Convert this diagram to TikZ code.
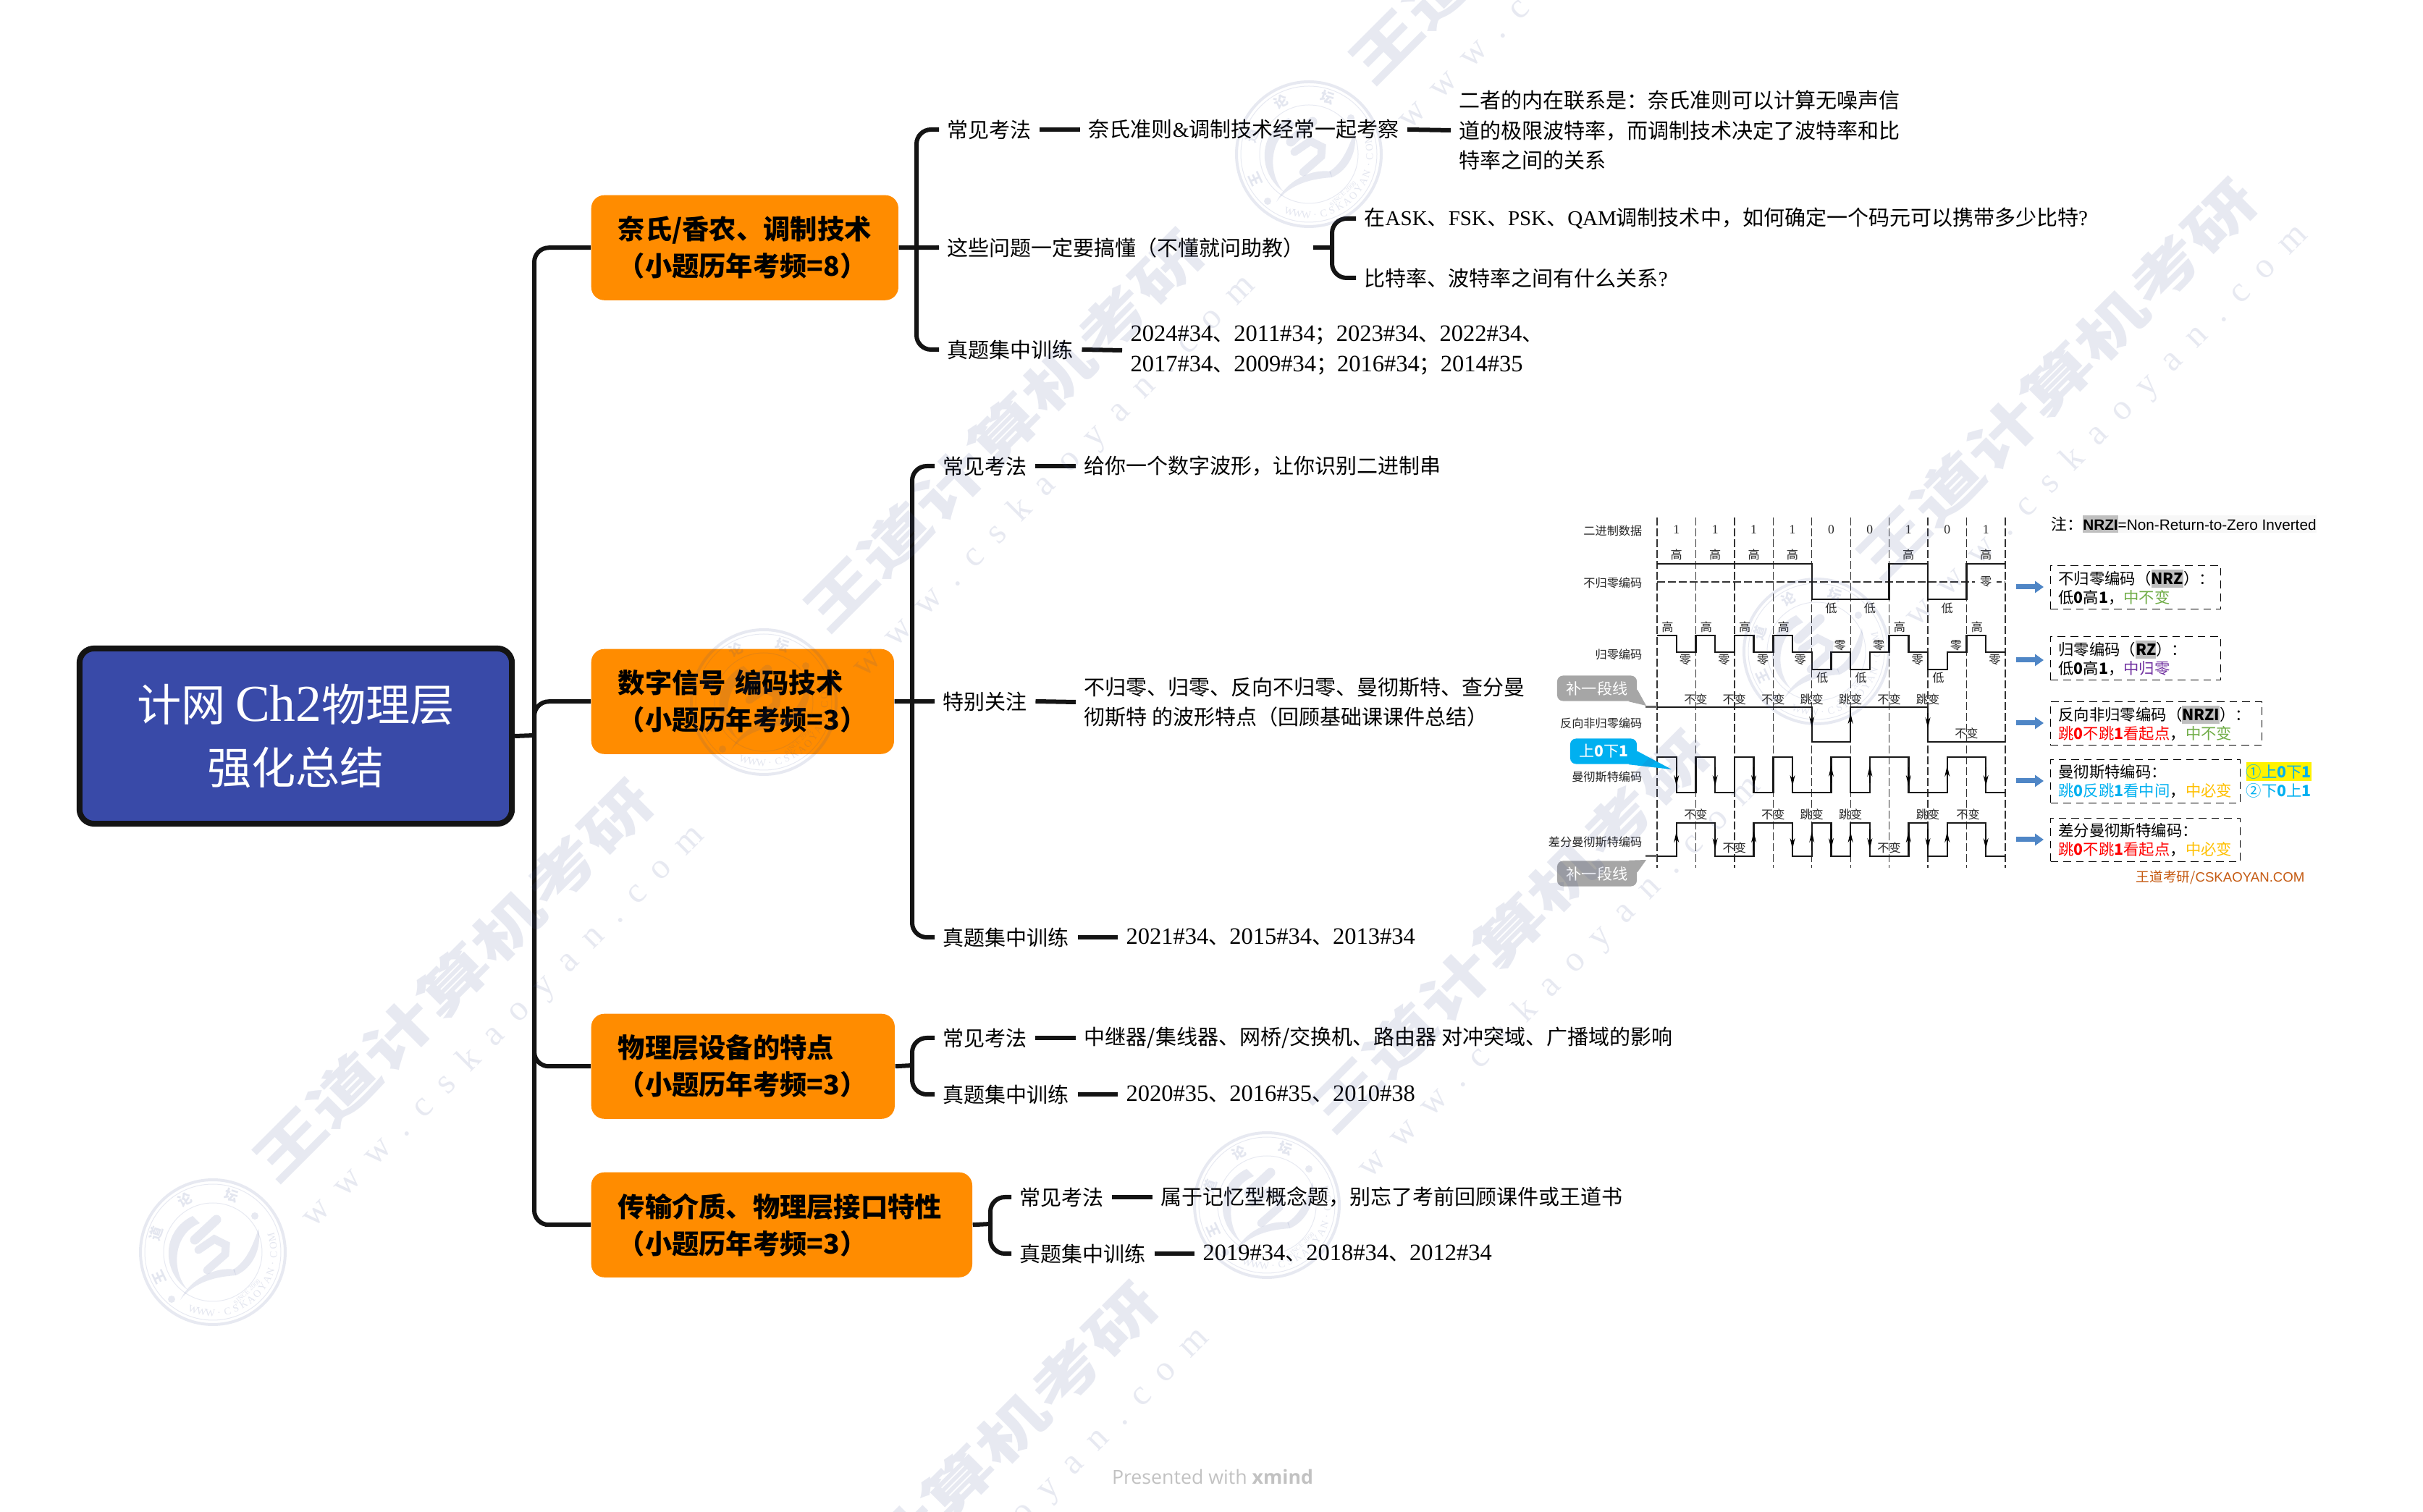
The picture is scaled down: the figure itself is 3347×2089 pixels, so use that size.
\documentclass[tikz,border=0pt]{standalone}
\usepackage{fontspec}
\setmainfont{Noto Sans CJK SC}
\newfontfamily\latfont{Liberation Serif}
\newfontfamily\numfont[Scale=1.12]{Liberation Serif}
\newfontfamily\rootfont[Scale=1.17]{Liberation Serif}
\newfontfamily\arialfont{Liberation Sans}
\newfontfamily\wmurlfont[LetterSpace=50]{Liberation Serif}
\newfontfamily\xmfont{Open Sans}
\usetikzlibrary{arrows.meta}
\definecolor{rootfill}{RGB}{57,74,168}
\definecolor{rootedge}{RGB}{20,20,20}
\definecolor{topicfill}{RGB}{255,140,0}
\definecolor{bubgray}{RGB}{166,166,166}
\definecolor{bubblue}{RGB}{0,176,240}
\definecolor{hlgray}{RGB}{191,191,191}
\definecolor{arrowblue}{RGB}{79,134,198}
\definecolor{zgreen}{RGB}{112,173,71}
\definecolor{zpurple}{RGB}{112,48,160}
\definecolor{zred}{RGB}{255,0,0}
\definecolor{zblue}{RGB}{0,176,240}
\definecolor{zorange}{RGB}{255,192,0}
\definecolor{zbrown}{RGB}{197,90,17}
\definecolor{wmblue}{RGB}{63,80,147}
\def\lat#1{{\latfont #1}}
\def\yr#1{{\numfont #1}}
\def\hl#1{{\fboxsep=0pt\colorbox{hlgray}{\rule[-1.1pt]{0pt}{7pt}\textbf{#1}}}}
\tikzset{
	rootbox/.style={draw=rootedge, line width=0.8mm, fill=rootfill, rounded corners=2mm, text=white, align=center, minimum width=5.97cm, minimum height=2.42cm, font=\fontsize{17.4}{25}\selectfont},
	topicbox/.style={fill=topicfill, rounded corners=1.8mm, anchor=north west, align=left, inner xsep=3.7mm, inner ysep=0pt, minimum height=1.45cm, font=\bfseries\fontsize{10.6}{14.5}\selectfont},
	leaf/.style={anchor=west, align=left, inner xsep=1.1mm, inner ysep=0pt, font=\fontsize{8.25}{11.8}\selectfont},
	bar/.style={line width=0.6mm, color=rootedge},
	fork/.style={line width=0.6mm, color=rootedge, rounded corners=2mm},
	gridline/.style={line width=0.13mm, color=black!80, dash pattern=on 1.1mm off 0.4mm},
	wave/.style={line width=0.24mm, color=black!90},
	wavetip/.style={line width=0.13mm, -{Stealth[length=1.5mm,width=0.7mm]}},
	siglbl/.style={inner sep=0pt, font=\fontsize{4.6}{5}\selectfont, text=black!85},
	bubble/.style={rounded corners=0.8mm, minimum width=1.1cm, minimum height=0.35cm, inner sep=0pt, text=white, font=\fontsize{6}{7}\selectfont},
	notebox/.style={draw, line width=0.11mm, densely dashed, anchor=north west, align=left, inner xsep=1.1mm, inner ysep=0pt, minimum height=0.6cm, font=\fontsize{6.07}{7.4}\selectfont},
	notearrow/.style={line width=0.7mm, color=arrowblue, shorten >=0.9mm, -{Triangle[length=1.2mm,width=1.6mm]}},
	wmtitle/.style={rotate=45, xscale=1.44, opacity=0.12, text=wmblue, inner sep=0pt, font=\bfseries\fontsize{21}{22}\selectfont},
	wmurl/.style={rotate=45, opacity=0.12, text=wmblue, inner sep=0pt, font=\wmurlfont\fontsize{14}{15}\selectfont},
	wmline/.style={color=wmblue, opacity=0.12, line cap=round},
	wmfill/.style={fill=wmblue, opacity=0.12},
	wmseal/.style={opacity=0.14, text=wmblue, inner sep=0pt},
}
\def\wmtile(#1,#2){
	\node[wmtitle] (wmt#1) at (#1,#2) {王道计算机考研};
	\node[wmurl] (wmu#1) at (#1+70,#2+64) {www.cskaoyan.com};
}
\def\sealmark(#1,#2){
	\begin{scope}[shift={(#1,#2)},x=0.01cm,y=0.01cm]
		\draw[wmline, line width=0.4mm] (0,0) circle (100);
		\draw[wmline, line width=0.1mm] (0,0) circle (94);
		\draw[wmline, line width=0.1mm] (0,0) circle (68);
		\fill[wmfill] (-28,50) .. controls (-70,30) and (-72,-25) .. (-35,-52) .. controls (-58,-25) and (-55,25) .. (-18,40) -- cycle;
		\fill[wmfill] (63,32) .. controls (68,5) and (55,-22) .. (32,-32) -- (28,-24) .. controls (45,-14) and (55,8) .. (63,32) -- cycle;
		\fill[wmfill] (-45,-66) .. controls (-30,-35) and (5,-20) .. (30,-24) -- (32,-32) .. controls (5,-34) and (-25,-40) .. (-45,-66) -- cycle;
		\draw[wmline, line width=1.3mm] (5,45) -- (-25,17);
		\draw[wmline, line width=1.1mm] (-20,3) -- (2,18) -- (18,10) -- (17,-3) -- (-8,-25);
		\fill[wmfill] (58,50) circle (5);
		\fill[wmfill] (-57,-65) circle (5);
		\foreach \g/\a [count=\i] in {王/205,道/162,论/118,坛/72}
			\node[wmseal, rotate=\a-90, font=\bfseries\fontsize{5.4}{6}\selectfont] (sg\i) at (\a:82) {\g};
		\foreach \g [count=\i, evaluate=\i as \a using 243+\i*8.2] in {W,W,W,.,C,S,K,A,O,Y,A,N,.,C,O,M}
			\node[wmseal, rotate=\a+90, font=\latfont\fontsize{4}{5}\selectfont] (sl\i) at (\a:84) {\g};
		\node[wmseal, rotate=43, font=\latfont\fontsize{2.6}{3}\selectfont] (since) at (47,-55) {SINCE 2008};
	\end{scope}
}

\begin{document}
\begin{tikzpicture}[x=0.01cm,y=-0.01cm]
			%%%%% START %%%%%
			\useasboundingbox (0,0) rectangle (3347,2089);
			\fill[white] (0,0) rectangle (3347,2089);
			
			\node[rootbox] (root) at (408.5,1017) {计网 {\rootfont Ch2}物理层\\强化总结};
			
			\node[topicbox, text width=3.5cm] (topic1) at (816,269) {奈氏/香农、调制技术\\（小题历年考频=8）};
			\node[topicbox, text width=3.44cm] (topic2) at (816,896) {数字信号 编码技术\\（小题历年考频=3）};
			\node[topicbox, text width=3.45cm] (topic3) at (816,1400) {物理层设备的特点\\（小题历年考频=3）};
			\node[topicbox, text width=4.52cm] (topic4) at (816,1619) {传输介质、物理层接口特性\\（小题历年考频=3）};
			
			\coordinate (trunk) at (738,1016);
			\draw[bar] (root.east) -- (trunk);
			\foreach \t in {1,...,4}
				\draw[fork] (trunk) |- (topic\t.west);
			
			%% first topic
			\node[leaf] (aexam) at (1297,179) {常见考法};
			\node[leaf] (anote) at (1492,179) {奈氏准则\lat{\&}调制技术经常一起考察};
			\node[leaf] (alink) at (2004,180) {二者的内在联系是：奈氏准则可以计算无噪声信\\道的极限波特率，而调制技术决定了波特率和比\\特率之间的关系};
			\node[leaf] (aques) at (1297,342) {这些问题一定要搞懂（不懂就问助教）};
			\node[leaf] (aqone) at (1873,302) {在\lat{ASK}、\lat{FSK}、\lat{PSK}、\lat{QAM}调制技术中，如何确定一个码元可以携带多少比特\lat{?}};
			\node[leaf] (aqtwo) at (1873,384) {比特率、波特率之间有什么关系\lat{?}};
			\node[leaf] (atrain) at (1297,483) {真题集中训练};
			\node[leaf] (ayear) at (1550,484) {\yr{2024\#34}、\yr{2011\#34}；\yr{2023\#34}、\yr{2022\#34}、\\\yr{2017\#34}、\yr{2009\#34}；\yr{2016\#34}；\yr{2014\#35}};
			\coordinate (forka) at (1266,342);
			\coordinate (forkq) at (1840,342);
			\draw[bar] (topic1.east) -- (aques.west);
			\draw[fork] (forka) |- (aexam.west);
			\draw[fork] (forka) |- (atrain.west);
			\draw[bar] (aexam.east) -- (anote.west);
			\draw[bar] (anote.east) -- (alink.west);
			\draw[bar] (aques.east) -- (forkq);
			\draw[fork] (forkq) |- (aqone.west);
			\draw[fork] (forkq) |- (aqtwo.west);
			\draw[bar] (atrain.east) -- (ayear.west);
			
			%% second topic
			\node[leaf] (bexam) at (1291,644) {常见考法};
			\node[leaf] (bnote) at (1486,644) {给你一个数字波形，让你识别二进制串};
			\node[leaf] (bfocus) at (1291,969) {特别关注};
			\node[leaf] (bwave) at (1486,970) {不归零、归零、反向不归零、曼彻斯特、查分曼\\彻斯特 的波形特点（回顾基础课课件总结）};
			\node[leaf] (btrain) at (1291,1295) {真题集中训练};
			\node[leaf] (byear) at (1544,1295) {\yr{2021\#34}、\yr{2015\#34}、\yr{2013\#34}};
			\coordinate (forkb) at (1260,969);
			\draw[bar] (topic2.east) -- (bfocus.west);
			\draw[fork] (forkb) |- (bexam.west);
			\draw[fork] (forkb) |- (btrain.west);
			\draw[bar] (bexam.east) -- (bnote.west);
			\draw[bar] (bfocus.east) -- (bwave.west);
			\draw[bar] (btrain.east) -- (byear.west);
			
			%% third topic
			\node[leaf] (cexam) at (1291,1434) {常见考法};
			\node[leaf] (cnote) at (1486,1434) {中继器/集线器、网桥/交换机、路由器 对冲突域、广播域的影响};
			\node[leaf] (ctrain) at (1291,1512) {真题集中训练};
			\node[leaf] (cyear) at (1544,1512) {\yr{2020\#35}、\yr{2016\#35}、\yr{2010\#38}};
			\coordinate (forkc) at (1260,1472);
			\draw[bar] (topic3.east) -- (forkc);
			\draw[fork] (forkc) |- (cexam.west);
			\draw[fork] (forkc) |- (ctrain.west);
			\draw[bar] (cexam.east) -- (cnote.west);
			\draw[bar] (ctrain.east) -- (cyear.west);
			
			%% fourth topic
			\node[leaf] (dexam) at (1397,1654) {常见考法};
			\node[leaf] (dnote) at (1592,1654) {属于记忆型概念题，别忘了考前回顾课件或王道书};
			\node[leaf] (dtrain) at (1397,1732) {真题集中训练};
			\node[leaf] (dyear) at (1650,1732) {\yr{2019\#34}、\yr{2018\#34}、\yr{2012\#34}};
			\coordinate (forkd) at (1368,1691);
			\draw[bar] (topic4.east) -- (forkd);
			\draw[fork] (forkd) |- (dexam.west);
			\draw[fork] (forkd) |- (dtrain.west);
			\draw[bar] (dexam.east) -- (dnote.west);
			\draw[bar] (dtrain.east) -- (dyear.west);
			
			%% waveform panel, x counts bit cells here
			\begin{scope}[shift={(2289,0)},x=5.34mm]
				\foreach \k in {0,...,9}
					\draw[gridline] (\k,715) -- (\k,1199);
				\draw[gridline, line width=0.16mm] (0,804) -- (9,804);
				
				\foreach \b [count=\i] in {1,1,1,1,0,0,1,0,1}
					\node[siglbl, font=\latfont\fontsize{5}{6}\selectfont] (bit\i) at (\i-0.5,732) {\b};
				\foreach \c [count=\i] in {0.5,1.5,2.5,3.5,6.5,8.5}
					\node[siglbl] (nh\i) at (\c,766) {高};
				\foreach \c [count=\i] in {4.5,5.5,7.5}
					\node[siglbl] (nl\i) at (\c,840) {低};
				\node[siglbl, fill=white, inner xsep=2pt] (nz) at (8.5,804) {零};
				\draw[wave] (0,779) -- (4,779) -- (4,828) -- (6,828) -- (6,779) -- (7,779) -- (7,828) -- (8,828) -- (8,779) -- (9,779);
				
				\foreach \c [count=\i] in {0.27,1.27,2.27,3.27,6.27,8.27}
					\node[siglbl] (rh\i) at (\c,866) {高};
				\foreach \c [count=\i] in {0.73,1.73,2.73,3.7,6.73,8.73}
					\node[siglbl] (rz\i) at (\c,912) {零};
				\foreach \c [count=\i] in {4.73,5.73,7.73}
					\node[siglbl] (ru\i) at (\c,892) {零};
				\foreach \c [count=\i] in {4.27,5.27,7.27}
					\node[siglbl] (rl\i) at (\c,936) {低};
				\draw[wave] (0,878) -- (0.5,878) -- (0.5,901) -- (1,901) -- (1,878) -- (1.5,878) -- (1.5,901) -- (2,901) -- (2,878) -- (2.5,878) -- (2.5,901) -- (3,901) -- (3,878) -- (3.5,878) -- (3.5,901) -- (4,901) -- (4,925) -- (4.5,925) -- (4.5,901) -- (5,901) -- (5,925) -- (5.5,925) -- (5.5,901) -- (6,901) -- (6,878) -- (6.5,878) -- (6.5,901) -- (7,901) -- (7,925) -- (7.5,925) -- (7.5,901) -- (8,901) -- (8,878) -- (8.5,878) -- (8.5,901) -- (9,901);
				
				\foreach \c/\w [count=\i] in {1/不变,2/不变,3/不变,4/跳变,5/跳变,6/不变,7/跳变}
					\node[siglbl] (iv\i) at (\c,966) {\w};
				\node[siglbl] (iv8) at (8,1013) {不变};
				\draw[wave] (0,977) -- (4,977) -- (4,1025) -- (5,1025) -- (5,977) -- (7,977) -- (7,1025) -- (9,1025);
				\draw[wavetip] (4,985) -- (4,1005);
				\draw[wavetip] (5,1015) -- (5,985);
				\draw[wavetip] (7,985) -- (7,1006);
				
				\draw[wave] (0,1046) -- (0.5,1046) -- (0.5,1095) -- (1,1095) -- (1,1046) -- (1.5,1046) -- (1.5,1095) -- (2,1095) -- (2,1046) -- (2.5,1046) -- (2.5,1095) -- (3,1095) -- (3,1046) -- (3.5,1046) -- (3.5,1095) -- (4.5,1095) -- (4.5,1046) -- (5,1046) -- (5,1095) -- (5.5,1095) -- (5.5,1046) -- (6.5,1046) -- (6.5,1095) -- (7.5,1095) -- (7.5,1046) -- (8.5,1046) -- (8.5,1095) -- (9,1095);
				\foreach \c in {0.5,1.5,2.5,3.5,6.5,8.5}
					\draw[wavetip] (\c,1060) -- (\c,1086);
				\foreach \c in {4.5,5.5,7.5}
					\draw[wavetip] (\c,1082) -- (\c,1058);
				
				\foreach \c/\w [count=\i] in {1/不变,3/不变,4/跳变,5/跳变,7/跳变,8.04/不变}
					\node[siglbl] (da\i) at (\c,1125) {\w};
				\foreach \c [count=\i] in {2,6}
					\node[siglbl] (db\i) at (\c,1171) {不变};
				\draw[wave] (0,1183) -- (0.5,1183) -- (0.5,1137) -- (1.5,1137) -- (1.5,1183) -- (2.5,1183) -- (2.5,1137) -- (3.5,1137) -- (3.5,1183) -- (4,1183) -- (4,1137) -- (4.5,1137) -- (4.5,1183) -- (5,1183) -- (5,1137) -- (5.5,1137) -- (5.5,1183) -- (6.5,1183) -- (6.5,1137) -- (7,1137) -- (7,1183) -- (7.5,1183) -- (7.5,1137) -- (8.5,1137) -- (8.5,1183) -- (9,1183);
				\foreach \c in {0.5,2.5,4,5,6.5,7.5}
					\draw[wavetip] (\c,1175) -- (\c,1149);
				\foreach \c in {1.5,3.5,4.5,5.5,7,8.5}
					\draw[wavetip] (\c,1145) -- (\c,1173);
			\end{scope}
			
			\foreach \w/\y [count=\i] in {二进制数据/733,不归零编码/805,归零编码/904,反向非归零编码/999,曼彻斯特编码/1073,差分曼彻斯特编码/1163}
				\node[siglbl, anchor=east] (row\i) at (2269,\y) {\w};
			
			\draw[line width=0.3mm, color=black!60] (2273,977) -- (2289,977);
			\draw[line width=0.3mm, color=black!60] (2273,1183) -- (2289,1183);
			
			\node[bubble, fill=bubgray] (patcha) at (2206,951) {补一段线};
			\node[bubble, fill=bubgray] (patchb) at (2206,1207) {补一段线};
			\node[bubble, fill=bubblue, minimum width=0.92cm] (mannote) at (2215,1038) {上\textbf{0}下\textbf{1}};
			\coordinate (patchatip) at (2274,975);
			\coordinate (patchbtip) at (2274,1188);
			\coordinate (mannotetip) at (2309,1063);
			\fill[bubgray] ([yshift=-2mm]patcha.north east) -- (patchatip) -- ([xshift=-1.2mm]patcha.south east) -- cycle;
			\fill[bubgray] ([yshift=2mm]patchb.south east) -- (patchbtip) -- ([xshift=-1.2mm]patchb.north east) -- cycle;
			\fill[bubblue] ([yshift=-1.8mm]mannote.north east) -- (mannotetip) -- ([xshift=-1.2mm]mannote.south east) -- cycle;
			
			%% notes beside the waves
			\node[inner sep=0pt, anchor=west, font=\fontsize{6.2}{7}\selectfont] (nrzinote) at (2833,724) {注：\hl{\arialfont\fontsize{5.9}{7}\selectfont NRZI}{\fboxsep=0pt\colorbox{black!3}{\rule[-1.1pt]{0pt}{7pt}\arialfont\fontsize{5.9}{7}\selectfont =Non-Return-to-Zero Inverted}}};
			
			\node[notebox, text width=2.13cm] (notea) at (2832,781) {不归零编码（\hl{NRZ}）：\\低\textbf{0}高\textbf{1}，{\color{zgreen}中不变}};
			\node[notebox, text width=2.13cm] (noteb) at (2832,879) {归零编码（\hl{RZ}）：\\低\textbf{0}高\textbf{1}，{\color{zpurple}中归零}};
			\node[notebox, text width=2.7cm] (notec) at (2832,969) {反向非归零编码（\hl{NRZI}）：\\{\color{zred}跳\textbf{0}不跳\textbf{1}看起点}，{\color{zgreen}中不变}};
			\node[notebox, text width=2.4cm] (noted) at (2832,1049) {曼彻斯特编码：\\{\color{zblue}跳\textbf{0}反跳\textbf{1}看中间}，{\color{zorange}中必变}};
			\node[notebox, text width=2.4cm] (notee) at (2832,1130) {差分曼彻斯特编码：\\{\color{zred}跳\textbf{0}不跳\textbf{1}看起点}，{\color{zorange}中必变}};
			
			\foreach \y/\n [count=\i] in {811/a,912/b,999/c,1079/d,1160/e} {
				\coordinate (arrow\i) at (2785,\y);
				\draw[notearrow] (arrow\i) -- (arrow\i -| note\n.west);
			}
			
			\node[fill=yellow, inner xsep=0pt, inner ysep=1pt, anchor=west, text=zblue, font=\fontsize{6.07}{7}\selectfont] (manone) at (3102,1066) {①上\textbf{0}下\textbf{1}};
			\node[inner sep=0pt, anchor=west, text=zblue, font=\fontsize{6.07}{7}\selectfont] (mantwo) at (3102,1092) {②下\textbf{0}上\textbf{1}};
			\node[inner sep=0pt, anchor=west, text=zbrown, font=\fontsize{5.3}{7}\selectfont] (credit) at (2950,1212) {王道考研/\arialfont CSKAOYAN.COM};
			
			\node[inner sep=0pt, text=black!24, font=\xmfont\fontsize{7.6}{9}\selectfont] (xmind) at (1675,2040) {Presented with \textbf{xmind}};
			
			%%%%% watermark %%%%%
			\wmtile(626,1355)
			\wmtile(1387,595)
			\wmtile(2085,1287)
			\wmtile(2841,525)
			\wmtile(2140,-162)
			\wmtile(1323,2049)
			\sealmark(294,1730)
			\sealmark(1055,970)
			\sealmark(1808,213)
			\sealmark(2509,900)
			\sealmark(1750,1665)
			
			%%%%% END %%%%%
		\end{tikzpicture}
\end{document}
